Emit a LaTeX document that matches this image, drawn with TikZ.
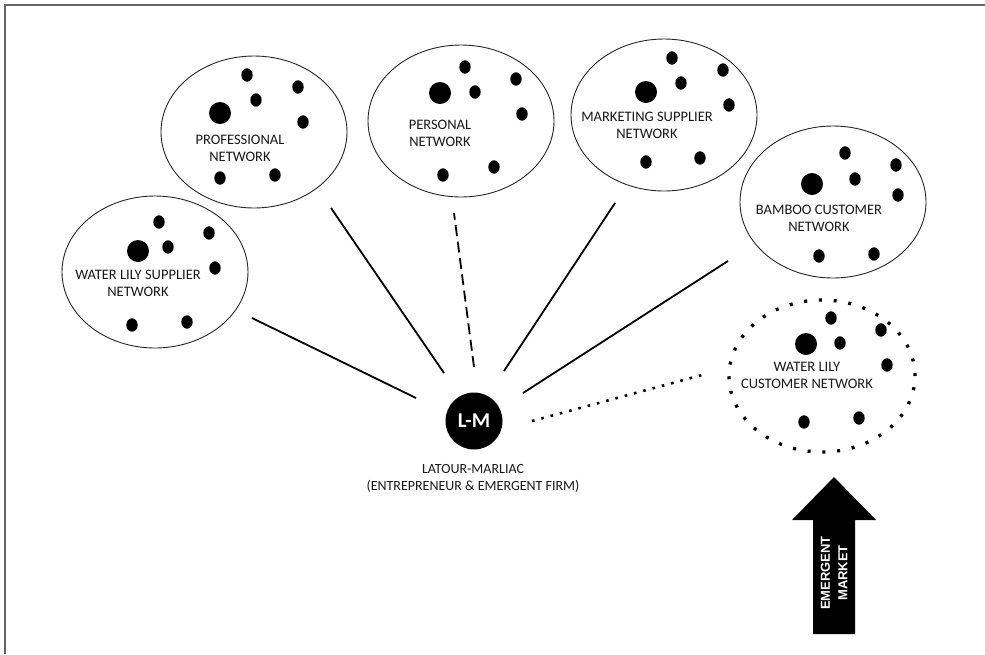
\documentclass[tikz,border=0pt]{standalone}
\usepackage{fontspec}
\setmainfont{Carlito}
\newfontfamily\arrowfont{Liberation Sans}
\usetikzlibrary{shapes.geometric}
\newcommand\bigdot[1]{\fill (#1) circle[radius=11pt];}
\newcommand\smalldot[1]{\fill (#1) ellipse[x radius=5.7pt, y radius=6.7pt];}
\begin{document}
\begin{tikzpicture}[x=1pt,y=-1pt,
  net/.style={draw=black!85, line width=0.9pt, ellipse, minimum width=186pt, minimum height=152pt, inner sep=0pt},
  dotnet/.style={draw=black, line width=3.3pt, dash pattern=on 3pt off 11.8pt, ellipse, minimum width=186pt, minimum height=152pt, inner sep=0pt},
  lbl/.style={font=\fontsize{14.5}{17}\selectfont, align=center, text=black!90, inner sep=0pt},
  conn/.style={line width=1.8pt, black},
  dashconn/.style={line width=1.8pt, black, dash pattern=on 11pt off 5.5pt},
  dotconn/.style={line width=2.6pt, black, dash pattern=on 2.6pt off 7pt},
]
\useasboundingbox (0,0) rectangle (985,654);
\fill[white] (0,0) rectangle (985,654);
\draw[black!60, line width=1.6pt] (5,654) -- (5,5) -- (985,5);

% network ellipses
\node[net] (wls) at (155,272) {};
\node[net] (prof) at (254,132) {};
\node[net] (pers) at (461,121) {};
\node[net] (mkt) at (664,115) {};
\node[net] (bam) at (833,202) {};
\node[dotnet] (wlc) at (822,376) {};

% labels
\node[lbl] (wlsl) at (138,283.5) {WATER LILY SUPPLIER\\NETWORK};
\node[lbl] (profl) at (240,148.5) {PROFESSIONAL\\NETWORK};
\node[lbl] (persl) at (440,133.5) {PERSONAL\\NETWORK};
\node[lbl] (mktl) at (647,125.5) {MARKETING SUPPLIER\\NETWORK};
\node[lbl] (baml) at (819,218.5) {BAMBOO CUSTOMER\\NETWORK};
\node[lbl] (wlcl) at (807,375.5) {WATER LILY\\CUSTOMER NETWORK};

% dots
\bigdot{138,251}\smalldot{159,222}\smalldot{168,247}\smalldot{209,233}\smalldot{215,268}\smalldot{132,325}\smalldot{187,322}
\bigdot{220,113}\smalldot{247,75}\smalldot{256,100}\smalldot{298,87}\smalldot{303,122}\smalldot{220,178}\smalldot{275,175}
\bigdot{440,93}\smalldot{465,67}\smalldot{475,92}\smalldot{516,79}\smalldot{522,114}\smalldot{443,175}\smalldot{494,167}
\bigdot{646,92}\smalldot{672,58}\smalldot{681,83}\smalldot{723,70}\smalldot{729,105}\smalldot{646,162}\smalldot{700,158}
\bigdot{812,184}\smalldot{845,153}\smalldot{855,179}\smalldot{896,165}\smalldot{898,195}\smalldot{819,256}\smalldot{874,254}
\bigdot{806,344}\smalldot{831,318}\smalldot{840,343}\smalldot{881,330}\smalldot{887,365}\smalldot{804,422}\smalldot{859,418}

% central firm
\node[circle, fill=black, minimum size=57pt, inner sep=0pt, text=white, font=\fontsize{21}{22}\selectfont\bfseries] (lm) at (474,421) {L-M};
\node[lbl, font=\fontsize{14}{17}\selectfont] (lml) at (473,478) {LATOUR-MARLIAC\\(ENTREPRENEUR \& EMERGENT FIRM)};

% connectors
\draw[conn] ([shift={(-58,-23)}]lm.center) -- ([shift={(97,46)}]wls.center);
\draw[conn] ([shift={(-30,-48)}]lm.center) -- ([shift={(77,76)}]prof.center);
\draw[dashconn] ([shift={(0,-54)}]lm.center) -- ([shift={(-7,92)}]pers.center);
\draw[conn] ([shift={(30,-50)}]lm.center) -- ([shift={(-49,88)}]mkt.center);
\draw[conn] ([shift={(49,-28)}]lm.center) -- ([shift={(-105,59)}]bam.center);
\draw[dotconn] ([shift={(58,0)}]lm.center) -- ([shift={(-120,-1)}]wlc.center);

% emergent market arrow
\fill[black] (813,634) -- (813,520) -- (792,520) -- (834,477) -- (876,520) -- (855,520) -- (855,634) -- cycle;
\node[rotate=90, text=white, align=center, inner sep=0pt, font=\arrowfont\bfseries\fontsize{13}{17.5}\selectfont] (em) at (834,573) {EMERGENT\\MARKET};
\end{tikzpicture}
\end{document}
